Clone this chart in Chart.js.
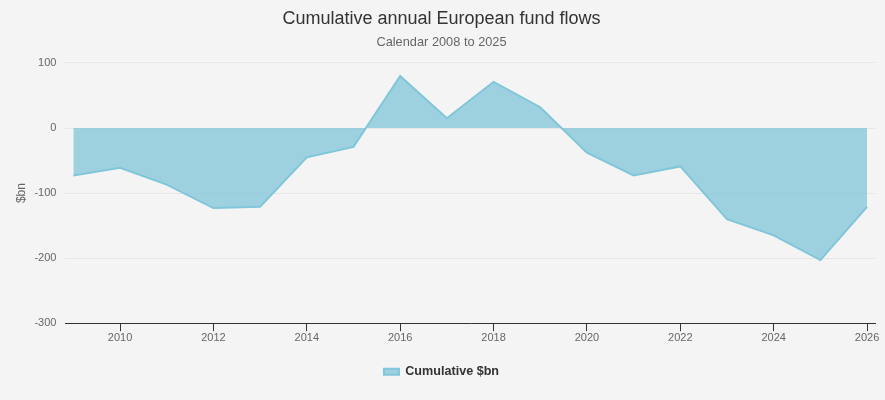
<!DOCTYPE html>
<html>
<head>
<meta charset="utf-8">
<script src="https://cdn.jsdelivr.net/npm/chart.js@4"></script>
<style>
  html, body { margin: 0; padding: 0; background: #f4f4f4; }
  #wrap { width: 885px; height: 400px; }
</style>
</head>
<body>
<div id="wrap"><canvas id="flowChart" width="885" height="400"></canvas></div>
<script>
var years = [2009, 2010, 2011, 2012, 2013, 2014, 2015, 2016, 2017, 2018, 2019, 2020, 2021, 2022, 2023, 2024, 2025, 2026];
var cumulative = [-73, -61, -87, -123, -121, -45, -29, 80, 15, 71, 32, -38, -73, -59, -140, -165, -203, -121];
var xTickYears = [2010, 2012, 2014, 2016, 2018, 2020, 2022, 2024, 2026];
var yTicks = [-300, -200, -100, 0, 100];

Chart.defaults.font.family = "'Liberation Sans', Arial, sans-serif";
Chart.defaults.font.size = 11;
Chart.defaults.color = '#666';

var points = years.map(function (y, i) { return { x: y, y: cumulative[i] }; });

var flowChart = new Chart(document.getElementById('flowChart'), {
  type: 'line',
  data: {
    datasets: [{
      label: 'Cumulative $bn',
      data: points,
      fill: 'origin',
      borderColor: '#80c6da',
      backgroundColor: 'rgba(128,198,218,0.75)',
      borderWidth: 2,
      pointRadius: 0,
      pointHoverRadius: 0,
      tension: 0
    }]
  },
  options: {
    responsive: false,
    animation: false,
    layout: { padding: { left: 8, right: 10, top: 8, bottom: 12 } },
    plugins: {
      title: {
        display: true,
        text: 'Cumulative annual European fund flows',
        color: '#333',
        font: { size: 18, weight: 'normal' },
        padding: { top: 0, bottom: 5 }
      },
      subtitle: {
        display: true,
        text: 'Calendar 2008 to 2025',
        color: '#666',
        font: { size: 12.8 },
        padding: { bottom: 13 }
      },
      legend: {
        position: 'bottom',
        labels: {
          color: '#333',
          font: { size: 12.6, weight: 'bold' },
          boxWidth: 15,
          boxHeight: 6,
          padding: 12
        }
      },
      tooltip: { enabled: false }
    },
    scales: {
      x: {
        type: 'linear',
        min: 2008.83,
        max: 2026.17,
        afterBuildTicks: function (scale) {
          scale.ticks = xTickYears.map(function (v) { return { value: v }; });
        },
        afterFit: function (scale) { scale.height += 9; },
        ticks: {
          color: '#666',
          padding: 0,
          maxRotation: 0,
          callback: function (v) { return String(v); }
        },
        grid: { drawOnChartArea: false, drawTicks: true, tickLength: 8, color: '#333' },
        border: { color: '#333', width: 1 }
      },
      y: {
        min: -300,
        max: 100,
        afterBuildTicks: function (scale) {
          scale.ticks = yTicks.map(function (v) { return { value: v }; });
        },
        afterFit: function (scale) { scale.width -= 3; },
        title: { display: true, text: '$bn', color: '#666', font: { size: 12 }, padding: { top: 6, bottom: 0 } },
        ticks: { color: '#666', padding: 9 },
        grid: { color: '#e6e6e6', drawTicks: false },
        border: { display: false }
      }
    }
  }
});
</script>
</body>
</html>
